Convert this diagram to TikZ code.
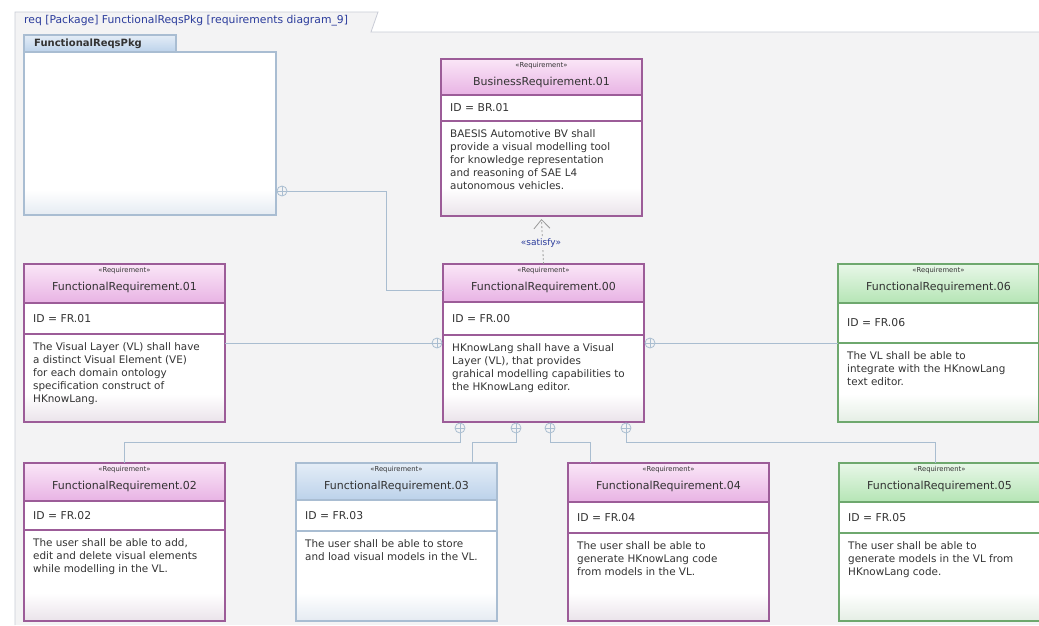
\documentclass[tikz,border=0pt]{standalone}
\usepackage{fontspec}
\setmainfont{DejaVu Sans}
\usetikzlibrary{calc,arrows.meta,positioning}
\definecolor{framebg}{HTML}{F3F3F4}
\definecolor{frameln}{HTML}{C9CCD6}
\definecolor{labelc}{HTML}{2B3C9C}
\definecolor{connc}{HTML}{A9BDD0}
\definecolor{pinkTop}{HTML}{FAE6F7}
\definecolor{pinkBot}{HTML}{E8B3E4}
\definecolor{pinkBorder}{HTML}{9C5C98}
\definecolor{pinkLow}{HTML}{EAE3EA}
\definecolor{blueTop}{HTML}{E4EDF7}
\definecolor{blueBot}{HTML}{BCD2EA}
\definecolor{blueBorder}{HTML}{A9BDD2}
\definecolor{blueLow}{HTML}{E5EBF2}
\definecolor{greenTop}{HTML}{E8F7E8}
\definecolor{greenBot}{HTML}{B5E5B5}
\definecolor{greenBorder}{HTML}{6EA86E}
\definecolor{greenLow}{HTML}{E4EEE4}
\definecolor{textc}{HTML}{333333}
\tikzset{
  boxshape/.style={rectangle, inner sep=0pt, outer sep=0pt, fill=white},
  stereo/.style={font=\fontsize{6.8}{8}\selectfont, text=textc, inner sep=0pt},
  titletext/.style={font=\fontsize{11}{13}\selectfont, text=textc, inner sep=0pt},
  idtext/.style={font=\fontsize{10.8}{12}\selectfont, text=textc, inner sep=0pt, anchor=west},
  bodytext/.style={font=\fontsize{10.4}{13}\selectfont, text=textc, inner sep=0pt, anchor=north west, align=left},
  conn/.style={draw=connc, line width=0.9pt},
  own/.style={circle, draw=connc, line width=0.8pt, fill=framebg, minimum size=10pt, inner sep=0pt,
    path picture={\draw[connc, line width=0.7pt] (path picture bounding box.north) -- (path picture bounding box.south)
      (path picture bounding box.west) -- (path picture bounding box.east);}},
  satisfyline/.style={draw=gray!80, line width=0.8pt, dash pattern=on 2pt off 2pt},
}
% #1 name, #2 position, #3 height, #4 header height, #5 id bottom, #6 scheme, #7 title, #8 id, #9 body
\newcommand\reqbox[9]{%
  \node[boxshape, minimum width=201pt, minimum height=#3pt, anchor=north west] (#1) at (#2) {};
  \shade[top color=white, bottom color=#6Low] ([yshift=28]#1.south west) rectangle (#1.south east);
  \shade[top color=#6Top, bottom color=#6Bot] (#1.north west) rectangle ([yshift=-#4]#1.north east);
  \draw[#6Border, line width=1.2pt] ([yshift=-#4]#1.north west) -- ([yshift=-#4]#1.north east)
       ([yshift=-#5]#1.north west) -- ([yshift=-#5]#1.north east);
  \draw[#6Border, line width=1.3pt] (#1.north west) rectangle (#1.south east);
  \node[stereo] (#1s) at ([yshift=-7]#1.north) {«Requirement»};
  \node[titletext] (#1t) at ([yshift=-23]#1.north) {#7};
  \node[idtext] (#1i) at ([xshift=9,yshift={-(#4+#5)/2}]#1.north west) {#8};
  \node[bodytext] (#1b) at ([xshift=9,yshift={-#5-8}]#1.north west) {#9};
}
\begin{document}
\begin{tikzpicture}[x=1pt,y=-1pt]
\useasboundingbox (0,0) rectangle (1039,625);
\fill[white] (0,0) rectangle (1039,625);
% frame
\fill[framebg] (15,32) rectangle (1039,625);
\fill[framebg] (15,12) -- (378,12) -- (371,32) -- (15,32) -- cycle;
\draw[frameln, line width=0.8pt] (15,625) -- (15,12) -- (378,12) -- (371,32) -- (1039,32);
\node[font=\fontsize{10.8}{12}\selectfont, text=labelc, anchor=west, inner sep=0pt] (framelabel) at (24,21)
  {req [Package] FunctionalReqsPkg [requirements diagram\_9]};

% package
\node[boxshape, minimum width=252pt, minimum height=163pt, anchor=north west] (pkg) at (24,52) {};
\shade[top color=white, bottom color=blueLow] ([yshift=25]pkg.south west) rectangle (pkg.south east);
\draw[blueBorder, line width=1.2pt] (pkg.north west) rectangle (pkg.south east);
\shade[top color=blueTop, bottom color=blueBot] (24,35) rectangle (176,52);
\draw[blueBorder, line width=1.2pt] (24,35) rectangle (176,52);
\node[font=\bfseries\fontsize{10}{11}\selectfont, text=textc, anchor=west, inner sep=0pt] (pkgname) at (34,43.5) {FunctionalReqsPkg};

% requirement boxes
\reqbox{br01}{441,59}{157}{36}{62}{pink}{BusinessRequirement.01}{ID = BR.01}
  {BAESIS Automotive BV shall\\provide a visual modelling tool\\for knowledge representation\\and reasoning of SAE L4\\autonomous vehicles.}
\reqbox{fr00}{443,264}{158}{38}{71}{pink}{FunctionalRequirement.00}{ID = FR.00}
  {HKnowLang shall have a Visual\\Layer (VL), that provides\\grahical modelling capabilities to\\the HKnowLang editor.}
\reqbox{fr01}{24,264}{158}{39}{70}{pink}{FunctionalRequirement.01}{ID = FR.01}
  {The Visual Layer (VL) shall have\\a distinct Visual Element (VE)\\for each domain ontology\\specification construct of\\HKnowLang.}
\reqbox{fr06}{838,264}{158}{39}{79}{green}{FunctionalRequirement.06}{ID = FR.06}
  {The VL shall be able to\\integrate with the HKnowLang\\text editor.}
\reqbox{fr02}{24,463}{158}{38}{67}{pink}{FunctionalRequirement.02}{ID = FR.02}
  {The user shall be able to add,\\edit and delete visual elements\\while modelling in the VL.}
\reqbox{fr03}{296,463}{158}{37}{68}{blue}{FunctionalRequirement.03}{ID = FR.03}
  {The user shall be able to store\\and load visual models in the VL.}
\reqbox{fr04}{568,463}{158}{39}{70}{pink}{FunctionalRequirement.04}{ID = FR.04}
  {The user shall be able to\\generate HKnowLang code\\from models in the VL.}
\reqbox{fr05}{839,463}{158}{39}{70}{green}{FunctionalRequirement.05}{ID = FR.05}
  {The user shall be able to\\generate models in the VL from\\HKnowLang code.}

% containment connectors
\node[own] (o1) at ([xshift=6,yshift=-139]pkg.north east) {};
\draw[conn] (o1.east) -| ([xshift=-57,yshift=-26]fr00.north west) -- ([yshift=-26]fr00.north west);

\node[own] (o2) at ([xshift=-6,yshift=-79]fr00.north west) {};
\draw[conn] (o2.west) -- (fr01.east |- o2.west);

\node[own] (o3) at ([xshift=6,yshift=-79]fr00.north east) {};
\draw[conn] (o3.east) -- (fr06.west |- o3.east);

\node[own] (o4) at ([xshift=17,yshift=-6]fr00.south west) {};
\node[own] (o5) at ([xshift=73,yshift=-6]fr00.south west) {};
\node[own] (o6) at ([xshift=107,yshift=-6]fr00.south west) {};
\node[own] (o7) at ([xshift=183,yshift=-6]fr00.south west) {};
\draw[conn] (o4.south) |- ([yshift=21]fr02.north) -- (fr02.north);
\draw[conn] (o5.south) |- ([xshift=76,yshift=21]fr03.north) -- ([xshift=76]fr03.north);
\draw[conn] (o6.south) |- ([xshift=-78,yshift=21]fr04.north) -- ([xshift=-78]fr04.north);
\draw[conn] (o7.south) |- ([xshift=-4,yshift=21]fr05.north) -- ([xshift=-4]fr05.north);

% satisfy
\draw[satisfyline, -{Straight Barb[length=9pt, width=16pt, line width=0.8pt]}] (fr00.north) -- ([yshift=-3]br01.south);
\node[font=\fontsize{9}{10}\selectfont, text=labelc, fill=framebg, inner sep=1pt] (satlbl) at (541,243) {«satisfy»};
\end{tikzpicture}
\end{document}
